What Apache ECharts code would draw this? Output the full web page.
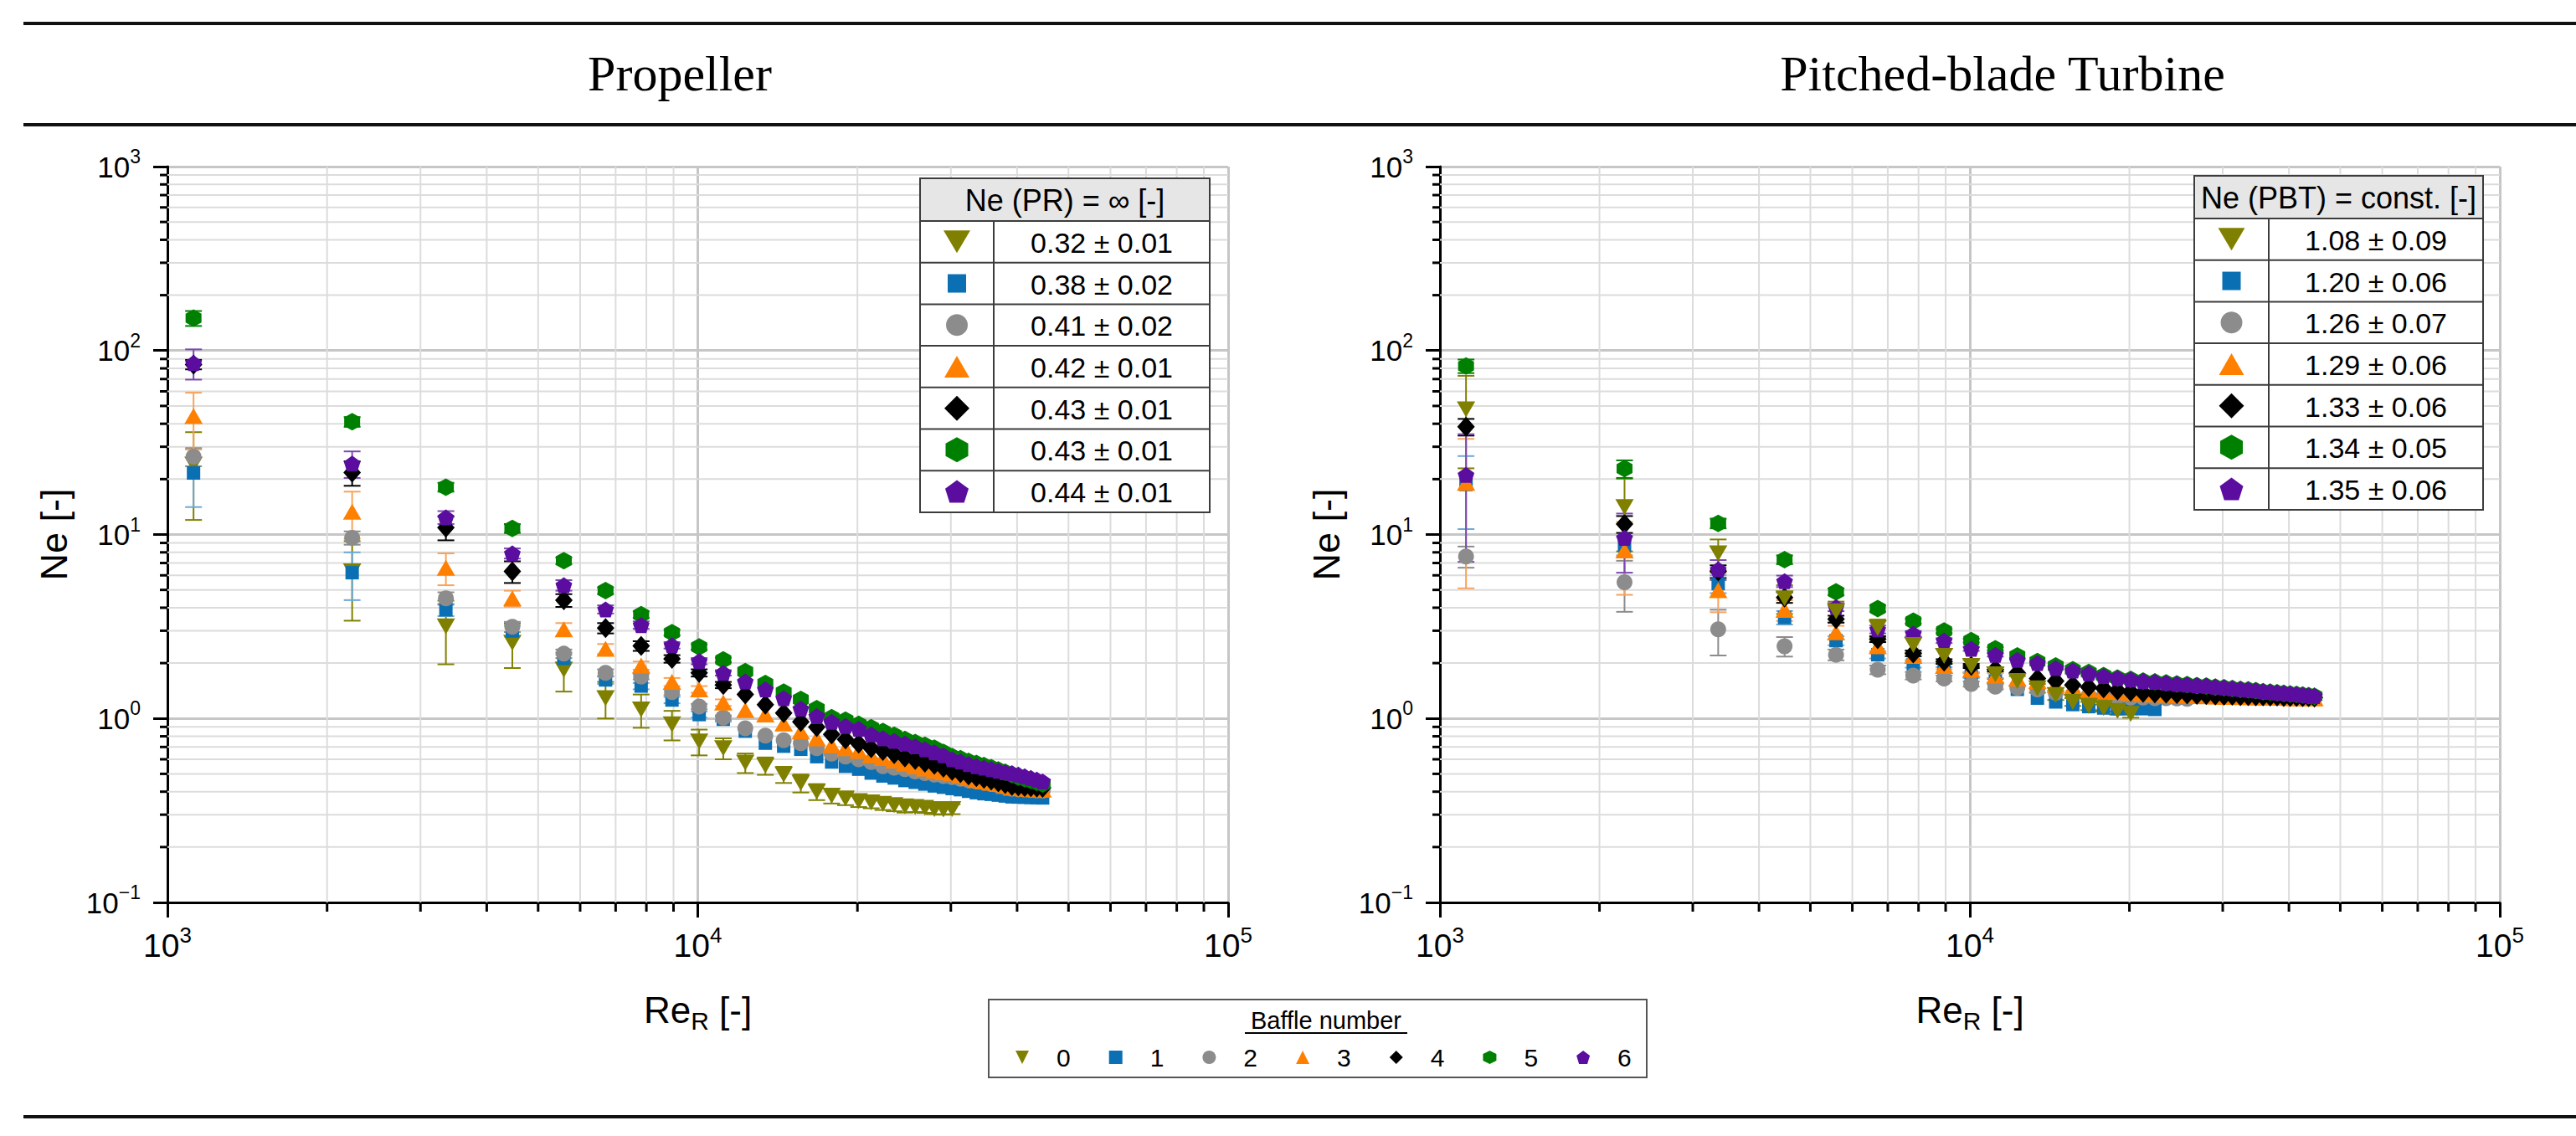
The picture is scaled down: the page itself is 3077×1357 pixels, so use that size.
<!DOCTYPE html>
<html>
<head>
<meta charset="utf-8">
<title>Ne vs Re_R</title>
<script src="https://cdn.jsdelivr.net/npm/echarts@6.0.0/dist/echarts.min.js"></script>
<style>
  html, body { margin: 0; padding: 0; background: #fff; }
  #chart { width: 3077px; height: 1357px; }
</style>
</head>
<body>
<div id="chart"></div>
<script>
// Reynolds numbers of the measuring points (same speed steps for both impellers)
const reR = [1120, 2230, 3350, 4470, 5590, 6700, 7820, 8940, 10060, 11170,
  12290, 13410, 14520, 15640, 16760, 17880, 18990, 20110, 21230, 22340,
  23460, 24580, 25700, 26810, 27930, 29050, 30170, 31280, 32400, 33520,
  34640, 35750, 36870, 37990, 39110, 40220, 41340, 42460, 43580, 44690];

// Propeller, Ne per baffle number (0..6) and error half widths
const prNe0 = [24, 6.3, 3.17, 2.58, 1.84, 1.29, 1.12, 0.93, 0.75, 0.69, 0.575, 0.554, 0.496, 0.446, 0.40, 0.38, 0.368, 0.355, 0.35, 0.343, 0.338, 0.333, 0.33, 0.327, 0.322, 0.32, 0.322];
const prNe1 = [21.6, 6.2, 3.9, 2.99, 2.12, 1.62, 1.50, 1.26, 1.05, 0.99, 0.853, 0.734, 0.707, 0.68, 0.62, 0.58, 0.55, 0.53, 0.505, 0.487, 0.475, 0.46, 0.45, 0.44, 0.43, 0.423, 0.416, 0.41, 0.402, 0.395, 0.39, 0.387, 0.383, 0.379, 0.375, 0.374, 0.373, 0.372, 0.371, 0.37];
const prNe2 = [26.5, 9.6, 4.5, 3.15, 2.25, 1.77, 1.69, 1.39, 1.16, 1.01, 0.885, 0.806, 0.762, 0.734, 0.69, 0.644, 0.62, 0.60, 0.58, 0.55, 0.54, 0.53, 0.515, 0.505, 0.495, 0.487, 0.48, 0.47, 0.462, 0.455, 0.448, 0.44, 0.432, 0.425, 0.415, 0.412, 0.41, 0.408, 0.406, 0.405];
const prNe3 = [44, 13.3, 6.6, 4.5, 3.05, 2.39, 1.94, 1.58, 1.44, 1.22, 1.11, 1.05, 0.94, 0.85, 0.78, 0.715, 0.69, 0.667, 0.63, 0.61, 0.59, 0.57, 0.55, 0.535, 0.52, 0.51, 0.505, 0.49, 0.475, 0.462, 0.455, 0.448, 0.44, 0.43, 0.42, 0.418, 0.416, 0.414, 0.412, 0.41];
const prNe4 = [84, 21.7, 10.9, 6.3, 4.39, 3.10, 2.48, 2.11, 1.77, 1.52, 1.35, 1.19, 1.07, 0.96, 0.898, 0.82, 0.77, 0.73, 0.69, 0.667, 0.64, 0.615, 0.595, 0.575, 0.56, 0.54, 0.52, 0.505, 0.49, 0.48, 0.47, 0.46, 0.45, 0.44, 0.43, 0.428, 0.425, 0.423, 0.421, 0.42];
const prNe5 = [150, 41, 18.1, 10.8, 7.2, 4.95, 3.67, 2.93, 2.45, 2.08, 1.80, 1.55, 1.39, 1.27, 1.13, 1.01, 0.98, 0.93, 0.89, 0.85, 0.81, 0.77, 0.74, 0.715, 0.69, 0.655, 0.62, 0.605, 0.585, 0.57, 0.555, 0.54, 0.525, 0.51, 0.495, 0.48, 0.47, 0.46, 0.45, 0.44];
const prNe6 = [85.5, 24.3, 12.4, 7.9, 5.3, 3.92, 3.22, 2.50, 2.05, 1.77, 1.59, 1.44, 1.29, 1.13, 1.03, 0.96, 0.91, 0.88, 0.82, 0.78, 0.755, 0.73, 0.705, 0.68, 0.655, 0.63, 0.60, 0.585, 0.565, 0.55, 0.54, 0.53, 0.52, 0.51, 0.505, 0.495, 0.485, 0.475, 0.465, 0.455];
const prErr0 = [12, 2.9, 1.2, 0.7, 0.44, 0.29, 0.23, 0.17, 0.12, 0.09, 0.07, 0.06, 0.05, 0.05, 0.04, 0.035, 0.03, 0.025, 0.025, 0.025, 0.025, 0.025, 0.02, 0.02, 0.02, 0.02, 0.02];
const prErr1 = [7.5, 1.8, 0.3, 0.2, 0.1, 0.08, 0.06, 0.05, 0.04, 0.03];
const prErr2 = [3, 0.8, 0.35, 0.2, 0.12, 0.08, 0.06, 0.05, 0.04, 0.03];
const prErr3 = [15, 3.8, 1.3, 0.45, 0.25, 0.15, 0.1, 0.08, 0.06, 0.05];
const prErr4 = [5, 3.3, 1.6, 0.85, 0.35, 0.2, 0.15, 0.1, 0.08, 0.06];
const prErr5 = [14, 2.5, 1.0, 0.6, 0.3, 0.2, 0.15, 0.1, 0.08, 0.06];
const prErr6 = [16, 4, 1.0, 0.5, 0.35, 0.2, 0.15, 0.1, 0.08, 0.06];

// Pitched-blade turbine
const pbtNe0 = [47.9, 14.1, 7.9, 4.5, 3.82, 3.10, 2.51, 2.19, 1.93, 1.74, 1.60, 1.46, 1.34, 1.23, 1.17, 1.14, 1.10, 1.06];
const pbtNe1 = [18.7, 8.7, 5.4, 3.54, 2.65, 2.22, 1.97, 1.84, 1.71, 1.60, 1.44, 1.29, 1.23, 1.19, 1.16, 1.14, 1.13, 1.13, 1.13, 1.12];
const pbtNe2 = [7.6, 5.5, 3.05, 2.47, 2.22, 1.84, 1.71, 1.65, 1.54, 1.49, 1.47, 1.44, 1.38, 1.35, 1.33, 1.32, 1.31, 1.30, 1.30, 1.29, 1.29, 1.285, 1.28];
const pbtNe3 = [19.1, 8.2, 4.98, 3.89, 2.94, 2.47, 2.19, 1.93, 1.84, 1.71, 1.65, 1.60, 1.52, 1.48, 1.44, 1.41, 1.39, 1.38, 1.36, 1.35, 1.345, 1.34, 1.33, 1.325, 1.32, 1.315, 1.31, 1.31, 1.305, 1.305, 1.30, 1.30, 1.30, 1.295, 1.295, 1.29, 1.29, 1.29, 1.29, 1.285];
const pbtNe4 = [38.5, 11.4, 6.3, 4.55, 3.47, 2.70, 2.26, 2.04, 1.93, 1.85, 1.77, 1.65, 1.60, 1.52, 1.48, 1.46, 1.42, 1.40, 1.38, 1.37, 1.365, 1.36, 1.35, 1.345, 1.34, 1.335, 1.33, 1.33, 1.325, 1.325, 1.32, 1.32, 1.315, 1.315, 1.31, 1.31, 1.31, 1.305, 1.305, 1.30];
const pbtNe5 = [82.4, 22.8, 11.5, 7.3, 4.88, 3.96, 3.38, 2.99, 2.65, 2.39, 2.19, 2.04, 1.93, 1.84, 1.78, 1.71, 1.66, 1.63, 1.60, 1.58, 1.56, 1.54, 1.53, 1.51, 1.50, 1.48, 1.47, 1.455, 1.44, 1.43, 1.415, 1.40, 1.39, 1.38, 1.37, 1.36, 1.35, 1.34, 1.33, 1.32];
const pbtNe6 = [21.1, 9.6, 6.46, 5.58, 4.03, 3.05, 2.89, 2.65, 2.39, 2.22, 2.08, 2.00, 1.88, 1.82, 1.76, 1.70, 1.66, 1.63, 1.60, 1.58, 1.56, 1.54, 1.53, 1.515, 1.505, 1.49, 1.475, 1.46, 1.445, 1.435, 1.42, 1.405, 1.395, 1.385, 1.375, 1.365, 1.355, 1.345, 1.335, 1.325];
const pbtErr0 = [25, 6, 1.5, 0.8, 0.5, 0.35, 0.25, 0.2, 0.15, 0.1, 0.1, 0.08, 0.08, 0.06, 0.06, 0.05, 0.05, 0.05];
const pbtErr1 = [8, 1, 0.6, 0.3, 0.15, 0.1, 0.08, 0.06, 0.05, 0.05];
const pbtErr2 = [1, 1.7, 0.85, 0.3, 0.15, 0.1, 0.08, 0.06, 0.05, 0.05];
const pbtErr3 = [14, 3.5, 1.2, 0.5, 0.25, 0.15, 0.1, 0.08, 0.06, 0.05];
const pbtErr4 = [4, 1.2, 0.5, 0.3, 0.15, 0.1, 0.08, 0.06, 0.05, 0.05];
const pbtErr5 = [7, 2.5, 0.7, 0.4, 0.2, 0.15, 0.1, 0.08, 0.06, 0.05];
const pbtErr6 = [14, 3.4, 0.8, 0.4, 0.2, 0.15, 0.1, 0.08, 0.06, 0.05];

// table and legend texts
const baffleNames = ['0', '1', '2', '3', '4', '5', '6'];
const prTableHeader = 'Ne (PR) = \u221e [-]';
const prTableValues = ['0.32 \u00b1 0.01', '0.38 \u00b1 0.02', '0.41 \u00b1 0.02', '0.42 \u00b1 0.01', '0.43 \u00b1 0.01', '0.43 \u00b1 0.01', '0.44 \u00b1 0.01'];
const pbtTableHeader = 'Ne (PBT) = const. [-]';
const pbtTableValues = ['1.08 \u00b1 0.09', '1.20 \u00b1 0.06', '1.26 \u00b1 0.07', '1.29 \u00b1 0.06', '1.33 \u00b1 0.06', '1.34 \u00b1 0.05', '1.35 \u00b1 0.06'];

const prNe = [prNe0, prNe1, prNe2, prNe3, prNe4, prNe5, prNe6];
const prErr = [prErr0, prErr1, prErr2, prErr3, prErr4, prErr5, prErr6];
const pbtNe = [pbtNe0, pbtNe1, pbtNe2, pbtNe3, pbtNe4, pbtNe5, pbtNe6];
const pbtErr = [pbtErr0, pbtErr1, pbtErr2, pbtErr3, pbtErr4, pbtErr5, pbtErr6];

// styles
const FONT = "'Liberation Sans', Arial, sans-serif";
const colors = ['#808000', '#0a6fb3', '#8c8c8c', '#ff8000', '#000000', '#008000', '#5b0d9f'];
const errColors = ['#808000', '#6fa8d6', '#8c8c8c', '#f7a35c', '#000000', '#008000', '#7a4bb0'];
// marker outlines in a unit box, null = circle
const shapes = [
  [[0, 0], [1, 0], [0.5, 1]],
  [[0, 0], [1, 0], [1, 1], [0, 1]],
  null,
  [[0.5, 0], [1, 1], [0, 1]],
  [[0.5, 0], [1, 0.5], [0.5, 1], [0, 0.5]],
  [[0.5, 0], [1, 0.25], [1, 0.75], [0.5, 1], [0, 0.75], [0, 0.25]],
  [[0.5, 0], [1, 0.38], [0.81, 1], [0.19, 1], [0, 0.38]]
];
const plotSizes = [[22, 19], [16, 16], [19, 19], [22, 19], [21, 24], [19, 21], [20, 19]];
const tableSizes = [[32, 27], [22, 22], [26, 26], [30, 26], [30, 30], [27, 30], [28, 27]];

const symbolOf = s => s ? 'path://M' + s.map(p => (p[0] * 10) + ',' + (p[1] * 10)).join('L') + 'Z' : 'circle';

const minorSteps = [2, 3, 4, 5, 6, 7, 8, 9];
const xDecades = [1000, 10000];
const yDecades = [0.1, 1, 10, 100];

const gridBox = [
  { left: 200, top: 199, width: 1267, height: 879 },
  { left: 1720, top: 199, width: 1266, height: 879 }
];

function powLabel(v) {
  const e = Math.round(Math.log10(v));
  return '{b|10}{s|' + (e < 0 ? '\u2212' + (-e) : e) + '}';
}
function powRich(fs) {
  return {
    b: { fontSize: fs, fontFamily: FONT, color: '#000', lineHeight: fs + 12 },
    s: { fontSize: Math.round(fs * 0.66), fontFamily: FONT, color: '#000', verticalAlign: 'top', lineHeight: Math.round(fs * 0.66) }
  };
}

function xAxisOf(i) {
  return {
    type: 'log', gridIndex: i, min: 1000, max: 100000, logBase: 10,
    axisLine: { onZero: false, lineStyle: { color: '#000', width: 3 } },
    axisTick: { length: 18, lineStyle: { color: '#000', width: 3 } },
    axisLabel: { margin: 26, formatter: powLabel, rich: powRich(39) },
    splitLine: { show: true, lineStyle: { color: '#c6c6c6', width: 3 } },
    name: '{a|Re}{r|R}{a| [-]}', nameLocation: 'middle', nameGap: 100, nameMoveOverlap: false,
    nameTextStyle: {
      rich: {
        a: { fontSize: 44, fontFamily: FONT, color: '#000', lineHeight: 56 },
        r: { fontSize: 30, fontFamily: FONT, color: '#000', verticalAlign: 'bottom', lineHeight: 30 }
      }
    }
  };
}
function yAxisOf(i) {
  return {
    type: 'log', gridIndex: i, min: 0.1, max: 1000, logBase: 10,
    axisLine: { onZero: false, lineStyle: { color: '#000', width: 3 } },
    axisTick: { length: 17, lineStyle: { color: '#000', width: 3 } },
    axisLabel: { margin: 32, formatter: powLabel, rich: powRich(35) },
    splitLine: { show: true, lineStyle: { color: '#c6c6c6', width: 3 } },
    name: 'Ne [-]', nameLocation: 'middle', nameGap: 113, nameMoveOverlap: false,
    nameTextStyle: { fontSize: 45, fontFamily: FONT, color: '#000' }
  };
}

// minor grid lines (2..9 per decade) and the short minor ticks
function minorData() {
  const d = [];
  xDecades.forEach(b => minorSteps.forEach(m => d.push([b * m, 1, 0])));
  yDecades.forEach(b => minorSteps.forEach(m => d.push([1000, b * m, 1])));
  return d;
}
function renderMinor(params, api) {
  const cs = params.coordSys;
  const grid = { stroke: '#dcdcdc', lineWidth: 2 };
  const tick = { stroke: '#000', lineWidth: 3 };
  if (api.value(2) === 0) {
    const x = api.coord([api.value(0), 1])[0];
    return { type: 'group', children: [
      { type: 'line', shape: { x1: x, y1: cs.y, x2: x, y2: cs.y + cs.height }, style: grid },
      { type: 'line', shape: { x1: x, y1: cs.y + cs.height, x2: x, y2: cs.y + cs.height + 11 }, style: tick }
    ] };
  }
  const y = api.coord([1000, api.value(1)])[1];
  return { type: 'group', children: [
    { type: 'line', shape: { x1: cs.x, y1: y, x2: cs.x + cs.width, y2: y }, style: grid },
    { type: 'line', shape: { x1: cs.x - 9, y1: y, x2: cs.x, y2: y }, style: tick }
  ] };
}

function renderErr(color) {
  return function (params, api) {
    const top = api.coord([api.value(0), api.value(2)]);
    const bot = api.coord([api.value(0), api.value(1)]);
    const st = { stroke: color, lineWidth: 2 };
    return { type: 'group', children: [
      { type: 'line', shape: { x1: top[0], y1: top[1], x2: bot[0], y2: bot[1] }, style: st },
      { type: 'line', shape: { x1: top[0] - 10, y1: top[1], x2: top[0] + 10, y2: top[1] }, style: st },
      { type: 'line', shape: { x1: bot[0] - 10, y1: bot[1], x2: bot[0] + 10, y2: bot[1] }, style: st }
    ] };
  };
}

const series = [];
[0, 1].forEach(g => {
  series.push({
    type: 'custom', name: 'grid' + g, xAxisIndex: g, yAxisIndex: g, silent: true, z: 1,
    renderItem: renderMinor, data: minorData(), clip: false
  });
});
function addSet(g, neSets, errSets, topIdx) {
  neSets.forEach((ne, k) => {
    const err = errSets[k];
    const errData = [];
    ne.forEach((v, i) => {
      if (err[i]) errData.push([reR[i], Math.max(v - err[i], 0.105), v + err[i]]);
    });
    series.push({
      type: 'custom', name: 'err' + g + k, xAxisIndex: g, yAxisIndex: g, silent: true, z: 2,
      renderItem: renderErr(errColors[k]), data: errData, clip: false
    });
  });
  neSets.forEach((ne, k) => {
    series.push({
      type: 'scatter', name: baffleNames[k], xAxisIndex: g, yAxisIndex: g,
      z: k === topIdx ? 20 : 3 + k,
      symbol: symbolOf(shapes[k]), symbolSize: plotSizes[k],
      itemStyle: { color: colors[k], opacity: 1 },
      data: ne.map((v, i) => [reR[i], v])
    });
  });
}
addSet(0, prNe, prErr, 6);
addSet(1, pbtNe, pbtErr, 0);

// ---------- graphic: rules, titles, tables, legend frame ----------
const graphics = [];
[28, 149, 1334].forEach(y => graphics.push({
  type: 'line', shape: { x1: 28, y1: y, x2: 3077, y2: y }, style: { stroke: '#111', lineWidth: 4 }, z: 50
}));
graphics.push({ type: 'text', x: 812, y: 88, z: 50,
  style: { text: 'Propeller', font: "60px 'Liberation Serif', 'Times New Roman', serif", fill: '#000', align: 'center', verticalAlign: 'middle' } });
graphics.push({ type: 'text', x: 2392, y: 88, z: 50,
  style: { text: 'Pitched-blade Turbine', font: "60px 'Liberation Serif', 'Times New Roman', serif", fill: '#000', align: 'center', verticalAlign: 'middle' } });

function addTable(x0, y0, w, divX, header, values) {
  const headH = 51, rowH = 49.7, h = headH + rowH * 7;
  const line = { stroke: '#3c3c3c', lineWidth: 2 };
  graphics.push({ type: 'rect', z: 60, shape: { x: x0, y: y0, width: w, height: h }, style: { fill: '#fff', stroke: '#3c3c3c', lineWidth: 2 } });
  graphics.push({ type: 'rect', z: 61, shape: { x: x0, y: y0, width: w, height: headH }, style: { fill: '#e6e6e6', stroke: '#3c3c3c', lineWidth: 2 } });
  graphics.push({ type: 'text', z: 62, x: x0 + w / 2, y: y0 + headH / 2 + 1,
    style: { text: header, font: '36px ' + FONT, fill: '#000', align: 'center', verticalAlign: 'middle' } });
  for (let i = 1; i < 7; i++) {
    const yy = y0 + headH + i * rowH;
    graphics.push({ type: 'line', z: 61, shape: { x1: x0, y1: yy, x2: x0 + w, y2: yy }, style: line });
  }
  graphics.push({ type: 'line', z: 61, shape: { x1: divX, y1: y0 + headH, x2: divX, y2: y0 + h }, style: line });
  values.forEach((t, k) => {
    const cy = y0 + headH + (k + 0.5) * rowH;
    const cx = (x0 + divX) / 2;
    const sw = tableSizes[k][0], sh = tableSizes[k][1];
    if (shapes[k]) {
      graphics.push({ type: 'polygon', z: 62,
        shape: { points: shapes[k].map(p => [cx - sw / 2 + p[0] * sw, cy - sh / 2 + p[1] * sh]) },
        style: { fill: colors[k] } });
    } else {
      graphics.push({ type: 'circle', z: 62, shape: { cx: cx, cy: cy, r: sw / 2 }, style: { fill: colors[k] } });
    }
    graphics.push({ type: 'text', z: 62, x: (divX + x0 + w) / 2, y: cy + 1,
      style: { text: t, font: '34px ' + FONT, fill: '#000', align: 'center', verticalAlign: 'middle' } });
  });
}
addTable(1099, 213, 346, 1187, prTableHeader, prTableValues);
addTable(2621, 210, 345, 2710, pbtTableHeader, pbtTableValues);

// bottom legend frame and its underlined title
graphics.push({ type: 'rect', z: 50, shape: { x: 1181, y: 1194, width: 786, height: 93 }, style: { fill: 'none', stroke: '#555', lineWidth: 2 } });
graphics.push({ type: 'text', z: 50, x: 1584, y: 1219,
  style: { text: 'Baffle number', font: '29px ' + FONT, fill: '#000', align: 'center', verticalAlign: 'middle' } });
graphics.push({ type: 'line', z: 50, shape: { x1: 1487, y1: 1234, x2: 1681, y2: 1234 }, style: { stroke: '#000', lineWidth: 2 } });

const option = {
  animation: false,
  backgroundColor: '#fff',
  grid: gridBox.map(b => Object.assign({ show: false, containLabel: false, outerBoundsMode: 'none' }, b)),
  xAxis: [xAxisOf(0), xAxisOf(1)],
  yAxis: [yAxisOf(0), yAxisOf(1)],
  legend: {
    left: 1213, top: 1248, padding: 0,
    itemWidth: 16, itemHeight: 16, itemGap: 46,
    selectedMode: false,
    textStyle: { fontSize: 30, fontFamily: FONT, color: '#000', padding: [0, 0, 0, 28] },
    data: baffleNames.map((n, k) => ({ name: n, icon: symbolOf(shapes[k]), itemStyle: { color: colors[k] } }))
  },
  graphic: { elements: graphics },
  series: series
};

const chart = echarts.init(document.getElementById('chart'), null, { renderer: 'svg' });
chart.setOption(option);
</script>
</body>
</html>
